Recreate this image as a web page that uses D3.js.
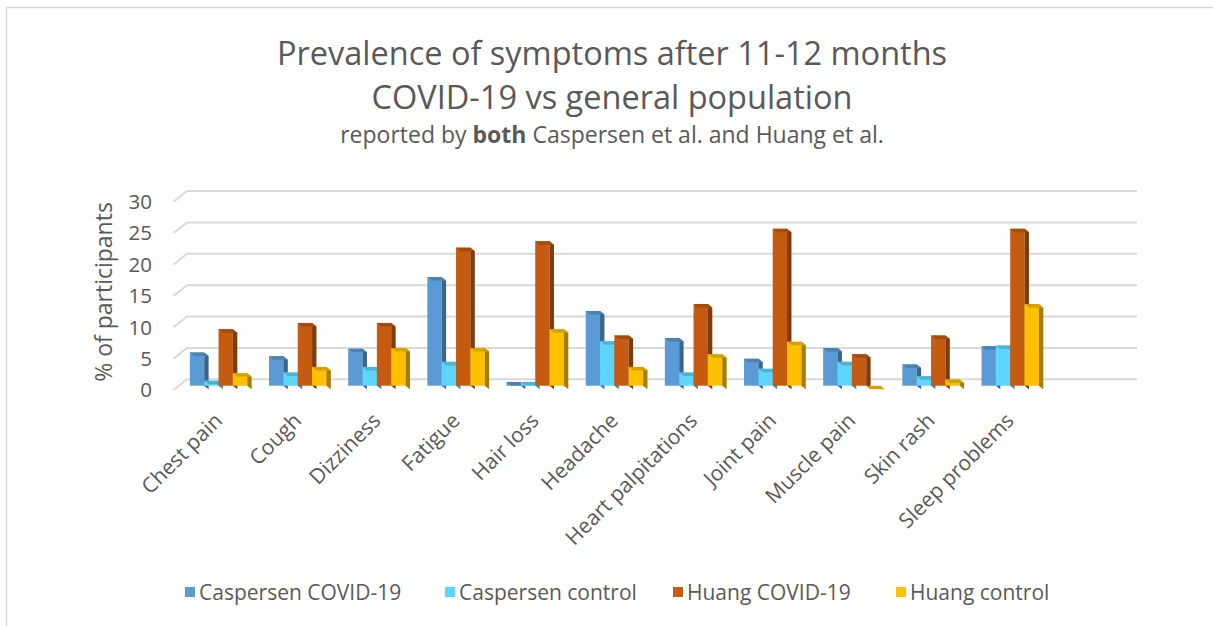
<!DOCTYPE html>
<html lang="en">
<head>
  <meta charset="UTF-8" />
  <title>Prevalence of symptoms after 11-12 months</title>
  <style>
    html, body {
      margin: 0; padding: 0;
      background: #fff;
      overflow: hidden;
    }
    svg {
      font-family: "Open Sans", sans-serif;
      display: block;
    }
    .grid { stroke: #d9d9d9; stroke-width: 2px; fill: none; }
    .tick-label { font-size: 20.5px; fill: #595959; }
    .cat-label { font-size: 21px; fill: #595959; }
    .legend text { font-size: 21px; fill: #595959; }
  </style>
</head>
<body>
  <svg width="1213" height="626"></svg>

  <script src="https://d3js.org/d3.v7.min.js"></script>
  <script>
    const categories = ["Chest pain", "Cough", "Dizziness", "Fatigue", "Hair loss", "Headache",
      "Heart palpitations", "Joint pain", "Muscle pain", "Skin rash", "Sleep problems"];
    const seriesNames = ["Caspersen COVID-19", "Caspersen control", "Huang COVID-19", "Huang control"];
    const caspersenCovid = [5.3, 4.7, 5.9, 17.3, 0.6, 11.9, 7.6, 4.3, 6.0, 3.4, 6.3];
    const caspersenControl = [0.8, 2.1, 3.0, 3.8, 0.6, 7.1, 2.1, 2.7, 3.8, 1.5, 6.4];
    const huangCovid = [9, 10, 10, 22, 23, 8, 13, 25, 5, 8, 25];
    const huangControl = [2, 3, 6, 6, 9, 3, 5, 7, 0, 1, 13];
    const yTicks = [0, 5, 10, 15, 20, 25, 30];
    const colors = ["#5b9bd5", "#5dd5ff", "#c55a11", "#ffc000"];

    const seriesValues = [caspersenCovid, caspersenControl, huangCovid, huangControl];

    const svg = d3.select("svg");

    // outer chart frame
    svg.append("rect")
      .attr("x", 6.5).attr("y", 7.5)
      .attr("width", 1220).attr("height", 640)
      .attr("fill", "none").attr("stroke", "#d9d9d9").attr("stroke-width", 1.5);

    // back wall of the 3d plot area, and the floor depth offset
    const wallLeft = 187, wallRight = 1137;
    const depth = { dx: -13.4, dy: 10.7 };
    const slot = (wallRight - wallLeft) / 12;
    const barFront = 0.6, barBack = 0.27;   // fraction of floor depth (from back)

    const x = d3.scaleBand()
      .domain(categories)
      .range([wallLeft, wallLeft + slot * categories.length]);

    const xs = d3.scaleBand()
      .domain(seriesNames)
      .range([0, x.bandwidth()])
      .paddingOuter(0.76);

    const y = d3.scaleLinear().domain([0, 30]).range([379.3, 191]);

    // gridlines: back wall + left floor diagonal
    const grid = svg.append("g");
    yTicks.forEach(t => {
      grid.append("path")
        .attr("class", "grid")
        .attr("d", `M${wallLeft + depth.dx},${y(t) + depth.dy}L${wallLeft},${y(t)}H${wallRight}`);
    });

    // tick labels at the front edge
    svg.append("g")
      .selectAll("text")
      .data(yTicks)
      .join("text")
      .attr("class", "tick-label")
      .attr("x", 152)
      .attr("y", d => y(d) + depth.dy)
      .attr("dy", "0.36em")
      .attr("text-anchor", "end")
      .text(d => d);

    svg.append("text")
      .attr("transform", `translate(112,292) rotate(-90)`)
      .attr("text-anchor", "middle")
      .attr("font-size", 23)
      .attr("fill", "#595959")
      .text("% of participants");

    // bars
    const fx = barFront * depth.dx, fy = barFront * depth.dy;
    const bdx = (barFront - barBack) * -depth.dx, bdy = (barFront - barBack) * -depth.dy;
    const bars = [];
    categories.forEach((c, i) => {
      seriesNames.forEach((s, j) => {
        bars.push({ c, s, j, v: seriesValues[j][i] });
      });
    });

    const barG = svg.append("g")
      .selectAll("g")
      .data(bars)
      .join("g");

    barG.each(function(d) {
      const g = d3.select(this);
      const x0 = x(d.c) + xs(d.s) + fx;
      const w = xs.bandwidth();
      const yb = y(0) + fy, yt = y(d.v) + fy;
      const base = d3.color(colors[d.j]);
      g.append("rect")
        .attr("x", x0).attr("y", yt)
        .attr("width", w).attr("height", yb - yt)
        .attr("fill", base);
      g.append("path")
        .attr("d", `M${x0 + w},${yt}L${x0 + w + bdx},${yt - bdy}L${x0 + w + bdx},${yb - bdy}L${x0 + w},${yb}Z`)
        .attr("fill", base.darker(1.2));
      g.append("path")
        .attr("d", `M${x0},${yt}L${x0 + bdx},${yt - bdy}L${x0 + w + bdx},${yt - bdy}L${x0 + w},${yt}Z`)
        .attr("fill", base.darker(0.5));
    });

    // category labels
    svg.append("g")
      .selectAll("text")
      .data(categories)
      .join("text")
      .attr("class", "cat-label")
      .attr("text-anchor", "end")
      .attr("transform", d => `translate(${x(d) + x.bandwidth() / 2 + fx + 5},422) rotate(-45)`)
      .text(d => d);

    // titles
    svg.append("text")
      .attr("x", 612).attr("y", 65)
      .attr("text-anchor", "middle")
      .attr("font-size", 32.5)
      .attr("fill", "#595959")
      .text("Prevalence of symptoms after 11-12 months");
    svg.append("text")
      .attr("x", 612).attr("y", 109)
      .attr("text-anchor", "middle")
      .attr("font-size", 32.5)
      .attr("fill", "#595959")
      .text("COVID-19 vs general population");
    const sub = svg.append("text")
      .attr("x", 612).attr("y", 143)
      .attr("text-anchor", "middle")
      .attr("font-size", 23)
      .attr("fill", "#595959");
    sub.append("tspan").text("reported by ");
    sub.append("tspan").attr("font-weight", "bold").text("both");
    sub.append("tspan").text(" Caspersen et al. and Huang et al.");

    // legend
    const legendX = [185, 445, 673, 896];
    const legend = svg.append("g")
      .attr("class", "legend")
      .selectAll("g")
      .data(seriesNames)
      .join("g")
      .attr("transform", (d, i) => `translate(${legendX[i]},592)`);
    legend.append("rect")
      .attr("x", 0).attr("y", -5)
      .attr("width", 10).attr("height", 10)
      .attr("fill", (d, i) => colors[i]);
    legend.append("text")
      .attr("x", 14)
      .attr("dy", "0.36em")
      .text(d => d);
  </script>
</body>
</html>
